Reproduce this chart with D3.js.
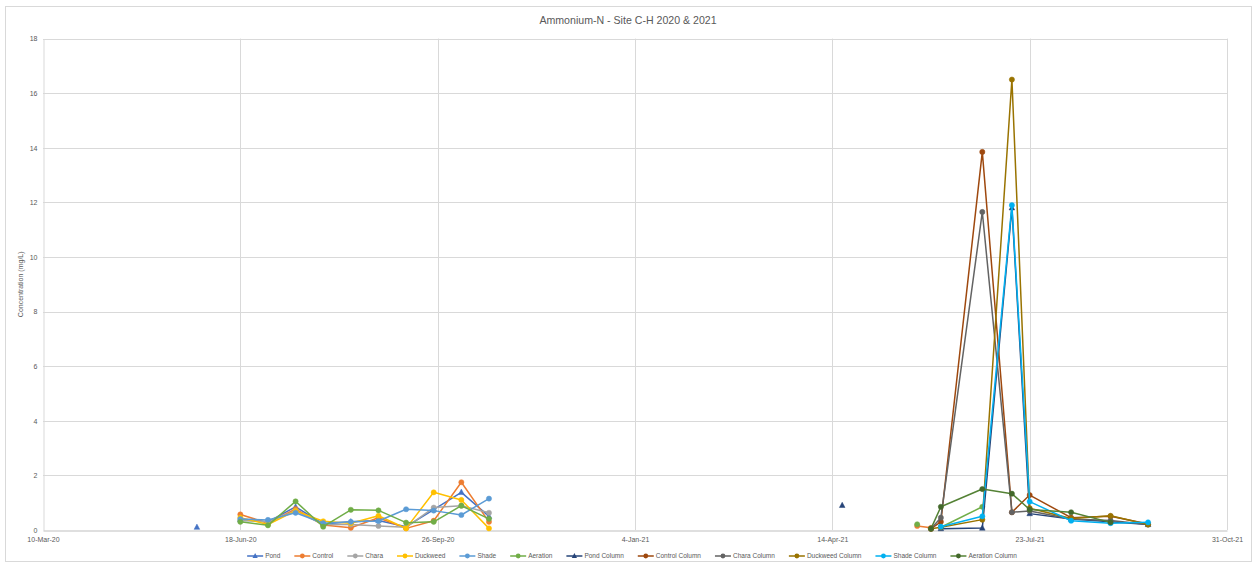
<!DOCTYPE html>
<html><head><meta charset="utf-8">
<script src="https://cdn.jsdelivr.net/npm/d3@7"></script>
<style>
html,body{margin:0;padding:0;background:#fff;}
svg{display:block;font-family:"Liberation Sans","Open Sans",sans-serif;}
</style></head>
<body><svg id="chart" width="1256" height="567"></svg>
<script>
// ---------- DATA ----------
// null date = break in the lines
const dates = ["2020-05-27", null,
  "2020-06-18","2020-07-02","2020-07-16","2020-07-30","2020-08-13","2020-08-27","2020-09-10","2020-09-24","2020-10-08","2020-10-22",
  null, "2021-04-19", null,
  "2021-05-27","2021-06-03","2021-06-08","2021-06-29","2021-07-14","2021-07-23","2021-08-13","2021-09-02","2021-09-21"];
const _ = null;
const pond        = [0.1,_, 0.38,0.30,0.85,0.22,0.30,0.35,0.12,0.75,1.38,0.50, _,_,_, _,_,_,_,_,_,_,_,_];
const control     = [_,_,   0.57,0.25,0.77,0.18,0.08,0.45,0.06,0.34,1.75,0.30, _,_,_, 0.15,0.08,_,_,_,_,_,_,_];
const chara       = [_,_,   0.35,0.30,0.70,0.20,0.20,0.15,0.10,0.82,0.89,0.63, _,_,_, _,_,_,_,_,_,_,_,_];
const duckweed    = [_,_,   0.45,0.20,0.70,0.32,0.25,0.52,0.06,1.38,1.10,0.06, _,_,_, _,_,_,_,_,_,_,_,_];
const shade       = [_,_,   0.40,0.37,0.63,0.25,0.30,0.33,0.76,0.71,0.55,1.15, _,_,_, _,_,_,_,_,_,_,_,_];
const aeration    = [_,_,   0.30,0.17,1.05,0.12,0.74,0.72,0.27,0.30,0.89,0.41, _,_,_, 0.21,_,0.10,0.85,_,_,_,_,_];
const pondCol     = [_,_,   _,_,_,_,_,_,_,_,_,_, _,0.9,_, _,_,0.05,0.07,11.8,0.60,0.40,0.30,0.20];
const controlCol  = [_,_,   _,_,_,_,_,_,_,_,_,_, _,_,_, _,0.05,0.30,13.85,0.65,1.28,0.45,0.50,0.22];
const charaCol    = [_,_,   _,_,_,_,_,_,_,_,_,_, _,_,_, _,0.05,0.45,11.65,0.65,0.70,0.40,0.35,0.20];
const duckweedCol = [_,_,   _,_,_,_,_,_,_,_,_,_, _,_,_, _,0.05,0.10,0.38,16.5,0.80,0.42,0.52,0.20];
const shadeCol    = [_,_,   _,_,_,_,_,_,_,_,_,_, _,_,_, _,_,0.12,0.50,11.9,1.04,0.34,0.25,0.28];
const aerationCol = [_,_,   _,_,_,_,_,_,_,_,_,_, _,_,_, _,0.05,0.85,1.50,1.33,0.75,0.65,0.28,_];
const seriesNames = ["Pond","Control","Chara","Duckweed","Shade","Aeration","Pond Column","Control Column","Chara Column","Duckweed Column","Shade Column","Aeration Column"];
const seriesValues = [pond,control,chara,duckweed,shade,aeration,pondCol,controlCol,charaCol,duckweedCol,shadeCol,aerationCol];
const xTickLabels = ["10-Mar-20","18-Jun-20","26-Sep-20","4-Jan-21","14-Apr-21","23-Jul-21","31-Oct-21"];
const yTicks = [0,2,4,6,8,10,12,14,16,18];

// ---------- STYLE ----------
const colors = ["#4472C4","#ED7D31","#A5A5A5","#FFC000","#5B9BD5","#70AD47","#264478","#9E480E","#636363","#997300","#00B0F0","#548235"];
const markerColors = ["#4472C4","#ED7D31","#A5A5A5","#FFC000","#5B9BD5","#70AD47","#264478","#9E480E","#636363","#997300","#00B0F0","#43682B"];
const shapes = ["tri","circle","circle","circle","circle","circle","tri","circle","circle","circle","circle","circle"];

const svg = d3.select("#chart");
const M = {left:43, right:1227, top:38.6, bottom:530};
const parse = d3.timeParse("%Y-%m-%d");
const fmtTick = d3.timeParse("%d-%b-%y");
const xTickDates = xTickLabels.map(s => fmtTick(s));
const x = d3.scaleTime().domain([xTickDates[0], xTickDates[xTickDates.length-1]]).range([M.left, M.right]);
const y = d3.scaleLinear().domain([0,18]).range([M.bottom, M.top]);

// chart border
svg.append("rect").attr("x",5.5).attr("y",6.5).attr("width",1246).attr("height",555).attr("fill","#fff").attr("stroke","#D9D9D9");

// gridlines
svg.append("g").selectAll("line").data(yTicks.slice(1)).join("line")
  .attr("x1",M.left).attr("x2",M.right).attr("y1",d=>Math.round(y(d))+0.5).attr("y2",d=>Math.round(y(d))+0.5)
  .attr("stroke","#D9D9D9").attr("stroke-width",1);
svg.append("g").selectAll("line").data(xTickDates.slice(1)).join("line")
  .attr("y1",M.top).attr("y2",M.bottom).attr("x1",d=>Math.round(x(d))+0.5).attr("x2",d=>Math.round(x(d))+0.5)
  .attr("stroke","#D9D9D9").attr("stroke-width",1);

// axes
const yAxis = d3.axisLeft(y).tickValues(yTicks).tickSize(0).tickPadding(6);
const gy = svg.append("g").attr("transform",`translate(${M.left+0.5},0)`).call(yAxis);
gy.select(".domain").attr("stroke","#D9D9D9");
gy.selectAll("text").attr("fill","#595959").attr("font-size","7px");
const xAxis = d3.axisBottom(x).tickValues(xTickDates).tickFormat((d,i)=>xTickLabels[i]).tickSize(0).tickPadding(7);
const gx = svg.append("g").attr("transform",`translate(0,${M.bottom+0.5})`).call(xAxis);
gx.select(".domain").attr("stroke","#BFBFBF");
gx.selectAll("text").attr("fill","#595959").attr("font-size","7px");

// titles
svg.append("text").attr("x",628).attr("y",24).attr("text-anchor","middle").attr("fill","#595959")
  .attr("font-size","10.6px").text("Ammonium-N - Site C-H 2020 & 2021");
svg.append("text").attr("transform",`translate(23,${(M.top+M.bottom)/2}) rotate(-90)`).attr("text-anchor","middle")
  .attr("fill","#595959").attr("font-size","7px").text("Concentration (mg/L)");

// series
const line = d3.line().defined(d => d.date && d.v != null).x(d=>x(d.date)).y(d=>y(d.v));
const triPath = (cx,cy,r) => `M${cx},${cy-r*1.15}L${cx+r},${cy+r*0.75}L${cx-r},${cy+r*0.75}Z`;
seriesValues.forEach((vals,si)=>{
  const pts = vals.map((v,i)=>({date: dates[i] ? parse(dates[i]) : null, v}));
  const g = svg.append("g");
  g.append("path").datum(pts).attr("d",line).attr("fill","none").attr("stroke",colors[si]).attr("stroke-width",1.5).attr("stroke-linejoin","round");
  const defined = pts.filter(d=>d.date && d.v!=null);
  if(shapes[si]==="tri"){
    g.selectAll("path.m").data(defined).join("path").attr("class","m")
      .attr("d",d=>triPath(x(d.date),y(d.v),2.8)).attr("fill",markerColors[si]).attr("stroke",markerColors[si]).attr("stroke-width",0.5);
  } else {
    g.selectAll("circle").data(defined).join("circle").attr("cx",d=>x(d.date)).attr("cy",d=>y(d.v)).attr("r",2.6)
      .attr("fill",markerColors[si]).attr("stroke",markerColors[si]).attr("stroke-width",0.5);
  }
});

// legend
const leg = svg.append("g");
let items = [];
const tmp = svg.append("text").attr("font-size","6.5px");
seriesNames.forEach(n=>{ tmp.text(n); items.push(tmp.node().getComputedTextLength()); });
tmp.remove();
const sw = 16, gapT = 2, gapItem = 14;
const total = d3.sum(items) + seriesNames.length*(sw+gapT) + (seriesNames.length-1)*gapItem;
let lx = 632 - total/2;
const ly = 556;
seriesNames.forEach((n,si)=>{
  const g = leg.append("g");
  g.append("line").attr("x1",lx).attr("x2",lx+sw).attr("y1",ly).attr("y2",ly).attr("stroke",colors[si]).attr("stroke-width",1.5);
  if(shapes[si]==="tri") g.append("path").attr("d",triPath(lx+sw/2,ly,2.6)).attr("fill",markerColors[si]);
  else g.append("circle").attr("cx",lx+sw/2).attr("cy",ly).attr("r",2.4).attr("fill",markerColors[si]);
  g.append("text").attr("x",lx+sw+gapT).attr("y",ly+2.3).attr("font-size","6.5px").attr("fill","#595959").text(n);
  lx += sw+gapT+items[si]+gapItem;
});
</script></body></html>
